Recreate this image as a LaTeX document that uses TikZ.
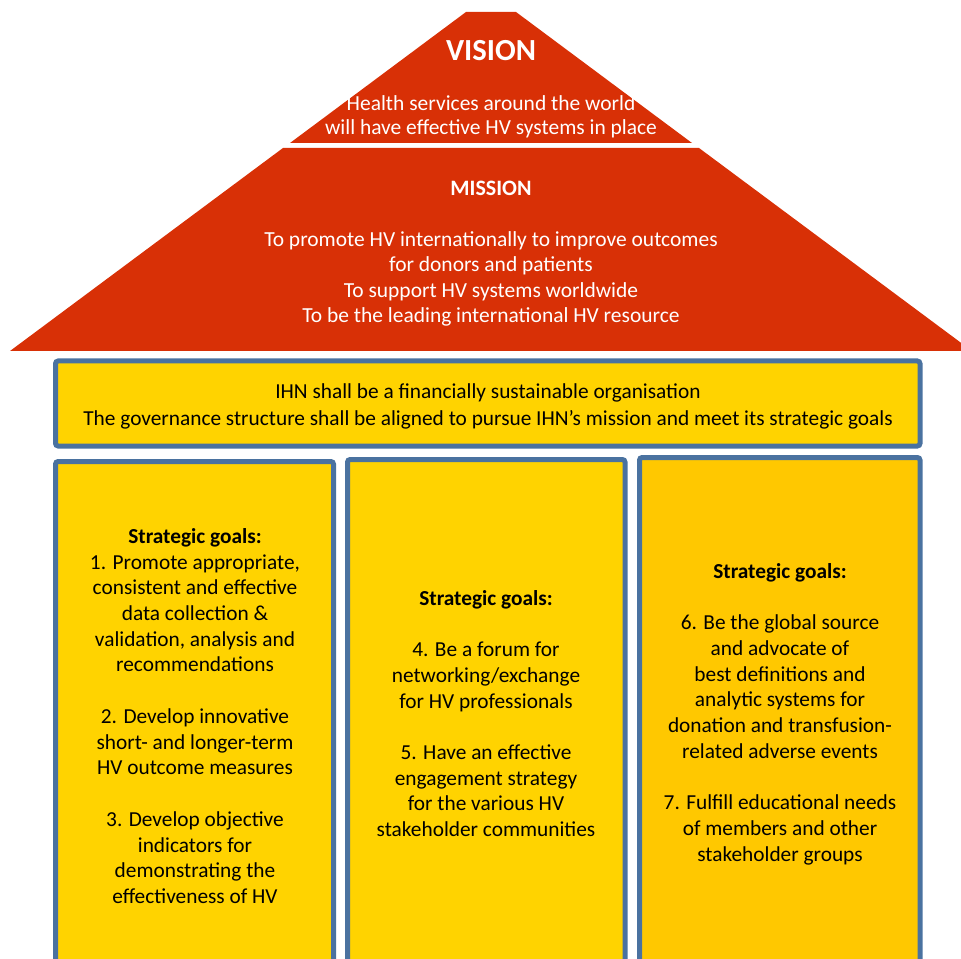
\documentclass[tikz,border=0pt]{standalone}
\usepackage{fontspec}
\setmainfont{Carlito}
\definecolor{roofred}{RGB}{216,48,6}
\definecolor{pillaryellow}{RGB}{255,211,0}
\definecolor{pillarorange}{RGB}{255,200,0}
\definecolor{edgeblue}{RGB}{74,114,160}
\begin{document}
\begin{tikzpicture}[x=0.75pt,y=-0.75pt,
  roof/.style={fill=roofred,draw=none},
  pillar/.style={fill=pillaryellow,draw=edgeblue,line width=3.75pt,rounded corners=2pt},
  whitetext/.style={text=white,align=center,inner sep=0pt,font=\fontsize{16.1}{18}\selectfont},
  darktext/.style={text=black,align=center,inner sep=0pt,font=\fontsize{16}{19.3}\selectfont}]
\useasboundingbox (0,0) rectangle (961,959);
% roof
\path[roof] (466,12) -- (516,12) -- (692,143) -- (290,143) -- cycle;
\path[roof] (283,148) -- (699,148) -- (972,351) -- (10,351) -- cycle;
\node[whitetext,font=\fontsize{23}{27}\bfseries] (vision) at (491,51) {VISION};
\node[whitetext] (visiontext) at (491,117) {Health services around the world\\will have effective HV systems in place};
\node[whitetext,font=\fontsize{16.5}{18}\bfseries] (mission) at (491,188) {MISSION};
\node[whitetext,font=\fontsize{16.1}{19}\selectfont] (missiontext) at (491,279) {To promote HV internationally to improve outcomes\\for donors and patients\\To support HV systems worldwide\\To be the leading international HV resource};
% governance
\path[pillar] (55.5,361) rectangle (920,446);
\node[darktext,font=\fontsize{16}{20}\selectfont] (gov) at (488,406.5) {IHN shall be a financially sustainable organisation\\The governance structure shall be aligned to pursue IHN’s mission and meet its strategic goals};
% pillars
\path[pillar] (55.5,461.5) rectangle (333.5,985);
\path[pillar] (347.5,459.5) rectangle (625,985);
\path[pillar,fill=pillarorange] (639.5,457.5) rectangle (920,985);
\node[darktext] (goals1) at (195,716) {\textbf{Strategic goals:}\\1. Promote appropriate,\\consistent and effective\\data collection \&\\validation, analysis and\\recommendations\\[19.3pt]2. Develop innovative\\short- and longer-term\\HV outcome measures\\[19.3pt]3. Develop objective\\indicators for\\demonstrating the\\effectiveness of HV};
\node[darktext] (goals2) at (486,713.5) {\textbf{Strategic goals:}\\[19.3pt]4. Be a forum for\\networking/exchange\\for HV professionals\\[19.3pt]5. Have an effective\\engagement strategy\\for the various HV\\stakeholder communities};
\node[darktext] (goals3) at (780,714) {\textbf{Strategic goals:}\\[19.3pt]6. Be the global source\\and advocate of\\best definitions and\\analytic systems for\\donation and transfusion-\\related adverse events\\[19.3pt]7. Fulfill educational needs\\of members and other\\stakeholder groups};
\end{tikzpicture}
\end{document}
